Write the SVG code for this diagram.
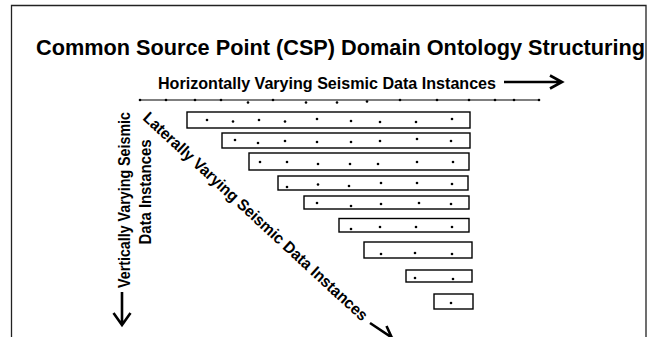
<svg xmlns="http://www.w3.org/2000/svg" width="658" height="337" viewBox="0 0 658 337">
  <style>
    .frame { fill: none; stroke: #222; stroke-width: 1.3; }
    .title { font-family: "Liberation Sans", Arial, sans-serif; font-weight: bold; font-size: 22px; fill: #000; }
    .label { font-family: "Liberation Sans", Arial, sans-serif; font-weight: bold; font-size: 16px; fill: #000; }
    .axis { stroke: #000; stroke-width: 1.2; fill: none; }
    .arrow { stroke: #000; stroke-width: 2.6; fill: none; stroke-linecap: butt; stroke-linejoin: miter; }
    .box { fill: #fff; stroke: #000; stroke-width: 1.4; }
    .dot { fill: #000; }
  </style>
  <defs>
    <circle id="pt" r="1.3" class="dot"/>
  </defs>

  <rect width="658" height="337" fill="#fff"/>

  <!-- open frame around the figure -->
  <path class="frame" d="M11.5,340 V5.5 H646 V340"/>

  <g id="title">
    <text class="title" x="36" y="55" textLength="609" lengthAdjust="spacingAndGlyphs">Common Source Point (CSP) Domain Ontology Structuring</text>
  </g>

  <g id="horizontal-label">
    <text class="label" x="158" y="88.5" textLength="338" lengthAdjust="spacingAndGlyphs">Horizontally Varying Seismic Data Instances</text>
  </g>

  <g id="vertical-label">
    <text class="label" text-anchor="middle" transform="translate(129.5,200) rotate(-90)" textLength="176" lengthAdjust="spacingAndGlyphs">Vertically Varying Seismic</text>
    <text class="label" text-anchor="middle" transform="translate(150.5,192) rotate(-90)" textLength="105" lengthAdjust="spacingAndGlyphs">Data Instances</text>
  </g>

  <g id="lateral-label">
    <text class="label" transform="translate(142,119) rotate(42.7)" textLength="299" lengthAdjust="spacingAndGlyphs">Laterally Varying Seismic Data Instances</text>
  </g>

  <g id="connectors">
    <!-- horizontal direction arrow -->
    <path class="arrow" d="M504,82 H561 M550,75.5 L562,82 L550,88.5"/>
    <!-- vertical direction arrow -->
    <path class="arrow" d="M122,292 V325 M113.5,313 L122,325 L130.5,313"/>
    <!-- lateral direction arrow -->
    <path class="arrow" d="M370,323 L394,339 M386.5,326 L392,338 L379,339"/>
  </g>

  <!-- top axis of instances -->
  <g id="instance-axis">
    <line class="axis" x1="140" y1="100" x2="540" y2="100"/>
    <use href="#pt" x="140" y="100"/>
    <use href="#pt" x="166" y="100"/>
    <use href="#pt" x="195" y="100"/>
    <use href="#pt" x="221" y="100"/>
    <use href="#pt" x="248" y="102.5"/>
    <use href="#pt" x="273" y="100"/>
    <use href="#pt" x="306" y="102.5"/>
    <use href="#pt" x="337" y="102.5"/>
    <use href="#pt" x="367" y="101.5"/>
    <use href="#pt" x="400" y="100"/>
    <use href="#pt" x="437" y="100"/>
    <use href="#pt" x="469" y="100"/>
    <use href="#pt" x="495" y="100"/>
    <use href="#pt" x="514" y="100"/>
    <use href="#pt" x="539" y="100"/>
  </g>

  <g id="row-1">
    <rect class="box" x="187" y="112" width="283" height="16"/>
    <use href="#pt" x="207" y="120"/><use href="#pt" x="233" y="121.5"/><use href="#pt" x="259" y="120"/>
    <use href="#pt" x="285" y="121.5"/><use href="#pt" x="317" y="119"/><use href="#pt" x="351" y="121"/>
    <use href="#pt" x="380" y="122"/><use href="#pt" x="416" y="122"/><use href="#pt" x="452" y="119"/>
  </g>
  <g id="row-2">
    <rect class="box" x="222" y="133" width="248" height="15"/>
    <use href="#pt" x="235" y="140"/><use href="#pt" x="258" y="143"/><use href="#pt" x="285" y="141"/>
    <use href="#pt" x="317" y="142"/><use href="#pt" x="351" y="142"/><use href="#pt" x="380" y="141"/>
    <use href="#pt" x="417" y="139"/><use href="#pt" x="451" y="141"/>
  </g>
  <g id="row-3">
    <rect class="box" x="249" y="153" width="220" height="17"/>
    <use href="#pt" x="260" y="162"/><use href="#pt" x="287" y="162"/><use href="#pt" x="318" y="164"/>
    <use href="#pt" x="350" y="164"/><use href="#pt" x="378" y="164"/><use href="#pt" x="417" y="162"/>
    <use href="#pt" x="453" y="162"/>
  </g>
  <g id="row-4">
    <rect class="box" x="278" y="176" width="190" height="14"/>
    <use href="#pt" x="287" y="187"/><use href="#pt" x="318" y="184.5"/><use href="#pt" x="349" y="186"/>
    <use href="#pt" x="381" y="183"/><use href="#pt" x="417" y="183"/><use href="#pt" x="452" y="184"/>
  </g>
  <g id="row-5">
    <rect class="box" x="304" y="196" width="165" height="13"/>
    <use href="#pt" x="317" y="203"/><use href="#pt" x="351" y="206"/><use href="#pt" x="381" y="204"/>
    <use href="#pt" x="419" y="203"/><use href="#pt" x="451" y="204"/>
  </g>
  <g id="row-6">
    <rect class="box" x="339" y="218.5" width="130" height="13.5"/>
    <use href="#pt" x="351" y="229"/><use href="#pt" x="380" y="227"/><use href="#pt" x="416" y="227"/>
    <use href="#pt" x="452" y="227"/>
  </g>
  <g id="row-7">
    <rect class="box" x="364" y="242" width="108" height="16"/>
    <use href="#pt" x="381" y="254"/><use href="#pt" x="415" y="253"/><use href="#pt" x="452" y="254"/>
  </g>
  <g id="row-8">
    <rect class="box" x="406" y="270" width="66" height="12"/>
    <use href="#pt" x="415" y="278"/><use href="#pt" x="453" y="279"/>
  </g>
  <g id="row-9">
    <rect class="box" x="434" y="294" width="39" height="15"/>
    <use href="#pt" x="451" y="303"/>
  </g>
</svg>
